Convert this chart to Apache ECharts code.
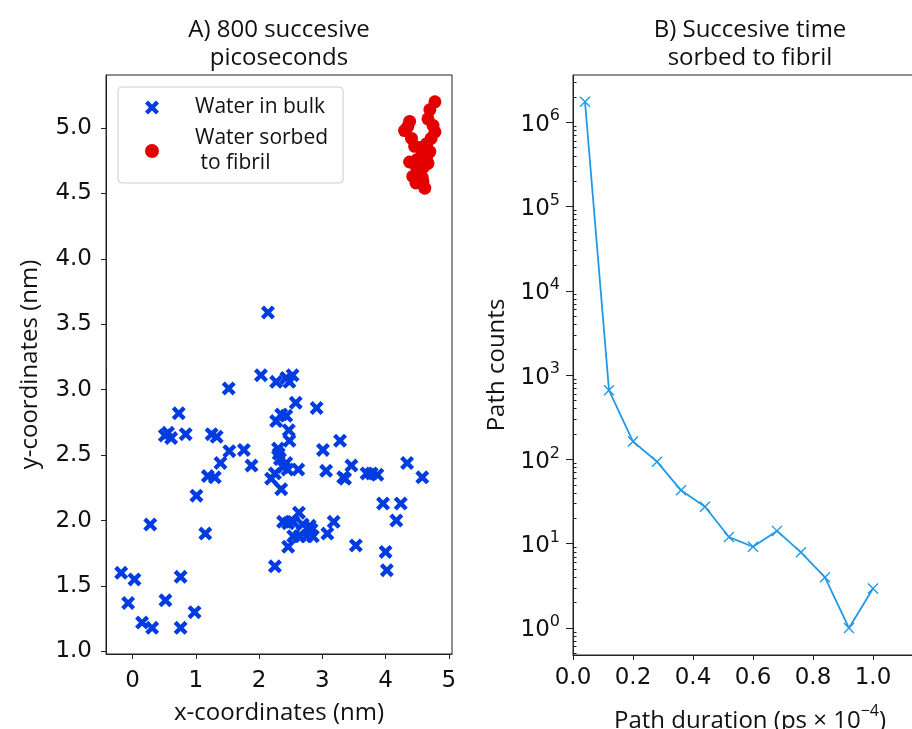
<!DOCTYPE html>
<html><head><meta charset="utf-8">
<script src="https://cdn.jsdelivr.net/npm/echarts@6/dist/echarts.min.js"></script>
<style>html,body{margin:0;padding:0;background:#fff}#c{width:912px;height:729px}</style>
</head><body><div id="c"></div>
<script>
// ---- Panel A: water positions (nm) ----
const bulkX = [-0.18,0.03,-0.07,0.15,0.31,0.76,0.52,0.76,0.98,0.28,1.15,1.01,1.19,1.30,1.39,1.88,1.53,1.76,0.73,0.56,0.61,0.51,0.84,1.25,1.33,1.52,2.14,2.03,2.27,2.43,2.53,2.48,2.58,2.91,2.35,2.43,2.27,2.47,2.48,2.30,2.31,2.33,2.43,2.38,2.45,2.62,2.25,2.19,2.35,3.01,3.28,3.06,3.46,3.33,3.36,3.70,3.78,3.87,4.34,4.58,3.96,4.24,4.17,2.63,2.38,2.46,2.54,2.69,2.80,2.83,2.54,2.64,2.75,2.85,3.18,3.08,3.53,2.46,2.25,4.00,4.02];
const bulkY = [1.60,1.55,1.37,1.22,1.18,1.18,1.39,1.57,1.30,1.97,1.90,2.19,2.34,2.33,2.44,2.42,2.53,2.54,2.82,2.67,2.63,2.65,2.66,2.66,2.64,3.01,3.59,3.11,3.06,3.09,3.11,3.06,2.90,2.86,2.81,2.80,2.76,2.69,2.61,2.55,2.51,2.47,2.44,2.41,2.39,2.39,2.36,2.32,2.24,2.54,2.61,2.38,2.42,2.33,2.32,2.36,2.36,2.35,2.44,2.33,2.13,2.13,2.00,2.06,1.99,1.98,1.99,1.97,1.96,1.93,1.88,1.88,1.88,1.88,1.99,1.90,1.81,1.80,1.65,1.76,1.62];
const fibrilX = [4.78,4.70,4.67,4.75,4.78,4.38,4.30,4.41,4.46,4.65,4.70,4.57,4.38,4.49,4.67,4.43,4.59,4.62,4.54,4.55,4.62,4.50,4.60,4.52,4.65,4.58,4.48,4.35,4.72];
const fibrilY = [5.20,5.14,5.07,5.02,4.97,5.05,4.98,4.92,4.86,4.88,4.82,4.78,4.74,4.70,4.73,4.63,4.59,4.54,4.65,4.85,4.80,4.76,4.70,4.68,4.78,4.62,4.58,5.01,4.92];
const xTicksA = [0,1,2,3,4,5];
const yTicksA = [1.0,1.5,2.0,2.5,3.0,3.5,4.0,4.5,5.0];
// ---- Panel B: path durations ----
const durations = [0.04,0.12,0.20,0.28,0.36,0.44,0.52,0.60,0.68,0.76,0.84,0.92,1.00];
const pathCounts = [1750000,660,163,94,43,27.5,12,9.2,14.2,7.9,4,1,2.95];
const xTicksB = [0,0.2,0.4,0.6,0.8,1.0];
const yTicksB = [1,10,100,1000,10000,100000,1000000];

const yMinorB = [];
for (let e = -1; e <= 6; e++) for (let k = 2; k <= 9; k++) yMinorB.push(k * Math.pow(10, e));

const FONT = 'Open Sans';
const TICKFONT = 'DejaVu Sans';
const AX = '#222';
const TXT = '#111';
const BLUE = '#003ce0', RED = '#e30000', LINEBLUE = '#1f9ae8';
const boldX = 'path://M0,2.2L2.2,0L5,2.8L7.8,0L10,2.2L7.2,5L10,7.8L7.8,10L5,7.2L2.2,10L0,7.8L2.8,5Z';
const thinX = 'path://M0,0.9L0.9,0L5,4.1L9.1,0L10,0.9L5.9,5L10,9.1L9.1,10L5,5.9L0.9,10L0,9.1L4.1,5Z';

const chart = echarts.init(document.getElementById('c'), null, {renderer: 'canvas'});
const bulk = bulkX.map((x, i) => [x, bulkY[i]]);
const fibril = fibrilX.map((x, i) => [x, fibrilY[i]]);
const paths = durations.map((x, i) => [x, pathCounts[i]]);

const tickLabel = {fontFamily: TICKFONT, fontSize: 23, color: TXT};
const nameStyle = {fontFamily: FONT, fontSize: 24, color: TXT};
chart.setOption({
  animation: false,
  backgroundColor: '#fff',
  title: [
    {text: 'A) 800 succesive\npicoseconds', left: 279, top: 16, padding: 0, textAlign: 'center',
     textStyle: {fontFamily: FONT, fontSize: 24, fontWeight: 'normal', color: TXT, lineHeight: 28}},
    {text: 'B) Succesive time\nsorbed to fibril', left: 750, top: 16, padding: 0, textAlign: 'center',
     textStyle: {fontFamily: FONT, fontSize: 24, fontWeight: 'normal', color: TXT, lineHeight: 28}}
  ],
  legend: {
    orient: 'vertical', left: 118, top: 87,
    padding: [8, 15, 7, 27], itemGap: 6, itemWidth: 30, itemHeight: 14,
    backgroundColor: 'rgba(255,255,255,0.9)', borderColor: '#cccccc', borderWidth: 1, borderRadius: 4,
    textStyle: {fontFamily: FONT, fontSize: 21, color: TXT, lineHeight: 25, padding: [0, 0, 0, 23]},
    data: [{name: 'Water in bulk', icon: boldX}, {name: 'Water sorbed\n to fibril', icon: 'circle'}]
  },
  grid: [
    {left: 106, top: 75, width: 346, height: 579, outerBoundsMode: 'none', show: true, borderColor: AX, borderWidth: 1, backgroundColor: 'transparent'},
    {left: 573, top: 75, width: 354, height: 580, outerBoundsMode: 'none', show: true, borderColor: AX, borderWidth: 1, backgroundColor: 'transparent'}
  ],
  xAxis: [
    {type: 'value', gridIndex: 0, min: -0.42, max: 5.05, splitLine: {show: false},
     axisLine: {show: true, onZero: false, lineStyle: {color: AX}},
     axisTick: {show: true, length: 5, customValues: xTicksA, lineStyle: {color: AX}},
     axisLabel: Object.assign({margin: 16, customValues: xTicksA, formatter: v => String(v)}, tickLabel),
     name: 'x-coordinates (nm)', nameLocation: 'middle', nameGap: 47, nameTextStyle: nameStyle},
    {type: 'value', gridIndex: 1, min: 0, max: 1.18, splitLine: {show: false},
     axisLine: {show: true, onZero: false, lineStyle: {color: AX}},
     axisTick: {show: true, length: 5, customValues: xTicksB, lineStyle: {color: AX}},
     axisLabel: Object.assign({margin: 12, customValues: xTicksB, formatter: v => v.toFixed(1)}, tickLabel),
     name: '{n|Path duration (ps × 10}{s|−4}{n|)}', nameLocation: 'middle', nameGap: 48,
     nameTextStyle: {fontFamily: FONT, fontSize: 24, color: TXT,
       rich: {n: {fontFamily: FONT, fontSize: 24, color: TXT, verticalAlign: 'bottom', lineHeight: 30},
              s: {fontFamily: FONT, fontSize: 16, color: TXT, verticalAlign: 'top', lineHeight: 16}}}}
  ],
  yAxis: [
    {type: 'value', gridIndex: 0, min: 0.98, max: 5.405, splitLine: {show: false},
     axisLine: {show: true, onZero: false, lineStyle: {color: AX}},
     axisTick: {show: true, length: 5, customValues: yTicksA, lineStyle: {color: AX}},
     axisLabel: Object.assign({margin: 14, customValues: yTicksA, formatter: v => v.toFixed(1)}, tickLabel),
     name: 'y-coordinates (nm)', nameLocation: 'middle', nameGap: 64, nameRotate: 90, nameTextStyle: nameStyle},
    {type: 'log', gridIndex: 1, logBase: 10, min: Math.pow(10, -0.32), max: Math.pow(10, 6.56), splitLine: {show: false},
     axisLine: {show: true, onZero: false, lineStyle: {color: AX}},
     axisTick: {show: true, length: 7, customValues: yTicksB, lineStyle: {color: AX}},
     axisLabel: Object.assign({margin: 13, customValues: yTicksB,
        formatter: v => '{b|10}{s|' + Math.round(Math.log10(v)) + '}',
        rich: {b: {fontFamily: TICKFONT, fontSize: 23, color: TXT, verticalAlign: 'bottom', lineHeight: 28},
               s: {fontFamily: TICKFONT, fontSize: 16, color: TXT, verticalAlign: 'top', lineHeight: 16}}}, tickLabel),
     name: 'Path counts', nameLocation: 'middle', nameGap: 64, nameRotate: 90, nameTextStyle: nameStyle},
    {type: 'log', gridIndex: 1, logBase: 10, min: Math.pow(10, -0.32), max: Math.pow(10, 6.56), splitLine: {show: false},
     axisLine: {show: false},
     axisTick: {show: true, length: 3.5, customValues: yMinorB, lineStyle: {color: AX}},
     axisLabel: {show: false}}
  ],
  series: [
    {name: 'Water in bulk', type: 'scatter', xAxisIndex: 0, yAxisIndex: 0, data: bulk,
     symbol: boldX, symbolSize: 14, itemStyle: {color: BLUE, opacity: 1}},
    {name: 'Water sorbed\n to fibril', type: 'scatter', xAxisIndex: 0, yAxisIndex: 0, data: fibril,
     symbol: 'circle', symbolSize: 13, itemStyle: {color: RED, opacity: 1}},
    {name: 'paths', type: 'line', xAxisIndex: 1, yAxisIndex: 1, data: paths,
     symbol: thinX, symbolSize: 11, showSymbol: true,
     lineStyle: {color: LINEBLUE, width: 1.8}, itemStyle: {color: LINEBLUE}}
  ]
});
</script></body></html>
